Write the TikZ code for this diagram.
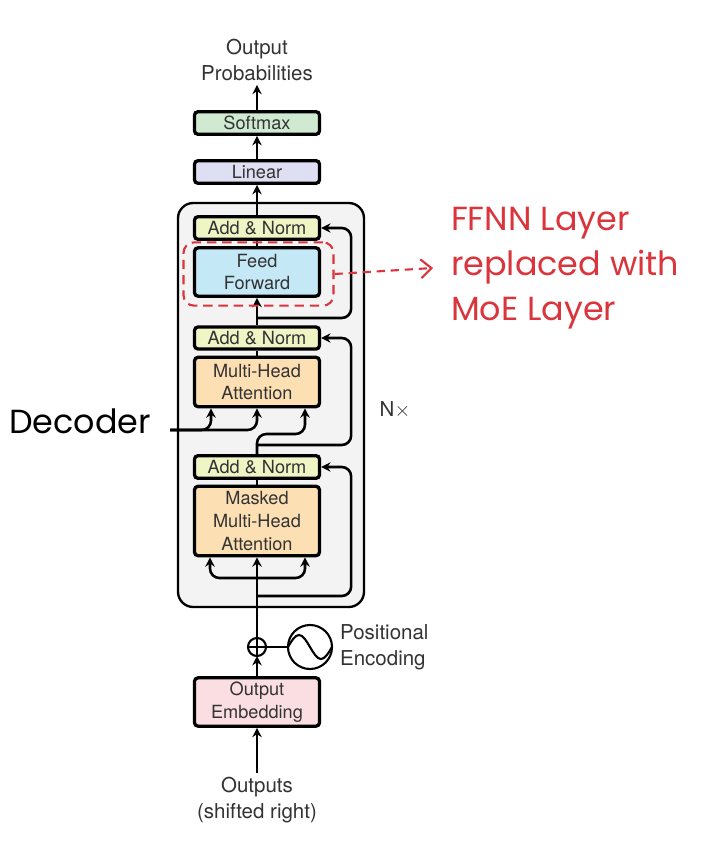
\documentclass[tikz,border=0pt]{standalone}
\usepackage{fontspec}
\setmainfont{TeX Gyre Heros}
\newfontfamily\handfont{Poppins}
\usetikzlibrary{arrows.meta}

\definecolor{softmaxfill}{RGB}{208,234,210}
\definecolor{linearfill}{RGB}{222,223,242}
\definecolor{normfill}{RGB}{240,245,198}
\definecolor{ffnfill}{RGB}{196,232,246}
\definecolor{attnfill}{RGB}{253,223,180}
\definecolor{embfill}{RGB}{250,222,225}
\definecolor{stackfill}{RGB}{243,243,243}
\definecolor{moered}{RGB}{218,52,60}

\tikzset{
  layer/.style={draw, line width=2.8pt, rounded corners=3pt, minimum width=3.75cm,
    inner sep=0pt, align=center, text=black!80, font=\fontsize{15.5}{19.5}\selectfont},
  flow/.style={line width=2.2pt, >={Stealth[length=8pt,width=8pt]}},
  tag/.style={align=center, text=black!80, font=\fontsize{17.5}{22}\selectfont},
  scribble/.style={align=left, font=\handfont\fontsize{28.5}{38.5}\selectfont}
}

\begin{document}
\begin{tikzpicture}[x=0.03cm,y=-0.03cm]
  \useasboundingbox (0,0) rectangle (706,845);

  % decoder stack
  \draw [line width=2pt, fill=stackfill, rounded corners=13pt] (178,203) rectangle (364,607);
  \node (nx) [tag] at (395,410) {N$\times$};

  \node (softmax) [layer, fill=softmaxfill, minimum height=0.68cm] at (257,123) {Softmax};
  \node (linear) [layer, fill=linearfill, minimum height=0.68cm] at (257,172) {Linear};
  \node (norma) [layer, fill=normfill, minimum height=0.68cm] at (257,228) {Add \& Norm};
  \node (ffn) [layer, fill=ffnfill, minimum height=1.45cm] at (257,272) {Feed\\Forward};
  \node (normb) [layer, fill=normfill, minimum height=0.66cm] at (257,338) {Add \& Norm};
  \node (mha) [layer, fill=attnfill, minimum height=1.48cm] at (257,382) {Multi-Head\\Attention};
  \node (normc) [layer, fill=normfill, minimum height=0.68cm] at (257,467) {Add \& Norm};
  \node (mmha) [layer, fill=attnfill, minimum height=2.08cm] at (257,521) {Masked\\Multi-Head\\Attention};
  \node (emb) [layer, fill=embfill, minimum height=1.45cm] at (257,702) {Output\\Embedding};

  \node (probs) [tag] at (257,60) {Output\\Probabilities};
  \node (outs) [tag] at (257,800) {Outputs\\(shifted right)};
  \node (posenc) [tag, align=left, anchor=west] at (336,647) {Positional\\Encoding};

  \node (plus) [circle, draw, fill=white, line width=1.8pt, outer sep=0pt, minimum size=0.54cm] at (257,647) {};
  \node (wave) [circle, draw, fill=white, line width=1.8pt, outer sep=0pt, minimum size=1.32cm] at (310,647) {};
  \draw [line width=1.8pt] (plus.north) -- (plus.south) (plus.west) -- (plus.east);
  \draw [line width=1.8pt] (wave.west) sin ++(11,-12) cos ++(11,12) sin ++(11,12) cos ++(11,-12);
  \draw [line width=2pt] (plus.east) -- (wave.west);

  \coordinate (resa) at (257,596);
  \coordinate (split) at (257,578);
  \coordinate (resb) at (257,445);
  \coordinate (qturn) at (257,434);
  \coordinate (resc) at (257,318);
  \coordinate (decin) at (170,430);

  % main path
  \draw [flow,->] (outs.north) -- (emb.south);
  \draw [flow,->] (emb.north) -- (plus.south);
  \draw [flow,->] (plus.north) -- (mmha.south);
  \draw [flow,->,rounded corners=8pt] (split) -| ([xshift=-1.41cm]mmha.south);
  \draw [flow,->,rounded corners=8pt] (split) -| ([xshift=1.44cm]mmha.south);
  \draw [flow,->,rounded corners=8pt] (resa) -| ([xshift=0.9cm]normc.east) -- (normc.east);
  \draw [flow] (mmha.north) -- (normc.south);
  \draw [flow,->,rounded corners=8pt] (normc.north) -- (qturn) -| ([xshift=1.44cm]mha.south);
  \draw [flow,->,rounded corners=8pt] (resb) -| ([xshift=0.9cm]normb.east) -- (normb.east);
  \draw [flow,->,rounded corners=8pt] (decin) -| ([xshift=-1.38cm]mha.south);
  \draw [flow,->,rounded corners=8pt] (decin) -| (mha.south);
  \draw [flow] (mha.north) -- (normb.south);
  \draw [flow,->] (normb.north) -- (ffn.south);
  \draw [flow,->,rounded corners=8pt] (resc) -| ([xshift=0.9cm]norma.east) -- (norma.east);
  \draw [flow] (ffn.north) -- (norma.south);
  \draw [flow,->] (norma.north) -- (linear.south);
  \draw [flow,->] (linear.north) -- (softmax.south);
  \draw [flow,->] (softmax.north) -- (probs.south);

  % notes
  \node (dec) [scribble, text=black] at (80,421) {Decoder};
  \node (moe) [draw=moered, dashed, dash pattern=on 8pt off 5pt, line width=1.8pt,
    rounded corners=9pt, minimum width=4.5cm, minimum height=1.9cm] at (258.5,274) {};
  \node (note) [scribble, text=moered, anchor=west] at (447,268) {FFNN Layer\\replaced with\\MoE Layer};
  \draw [moered, line width=1.8pt, dash pattern=on 7pt off 5pt, -{Straight Barb[length=9pt,width=16pt]}]
    (moe.east) -- ([xshift=-0.42cm]note.west);
\end{tikzpicture}
\end{document}
